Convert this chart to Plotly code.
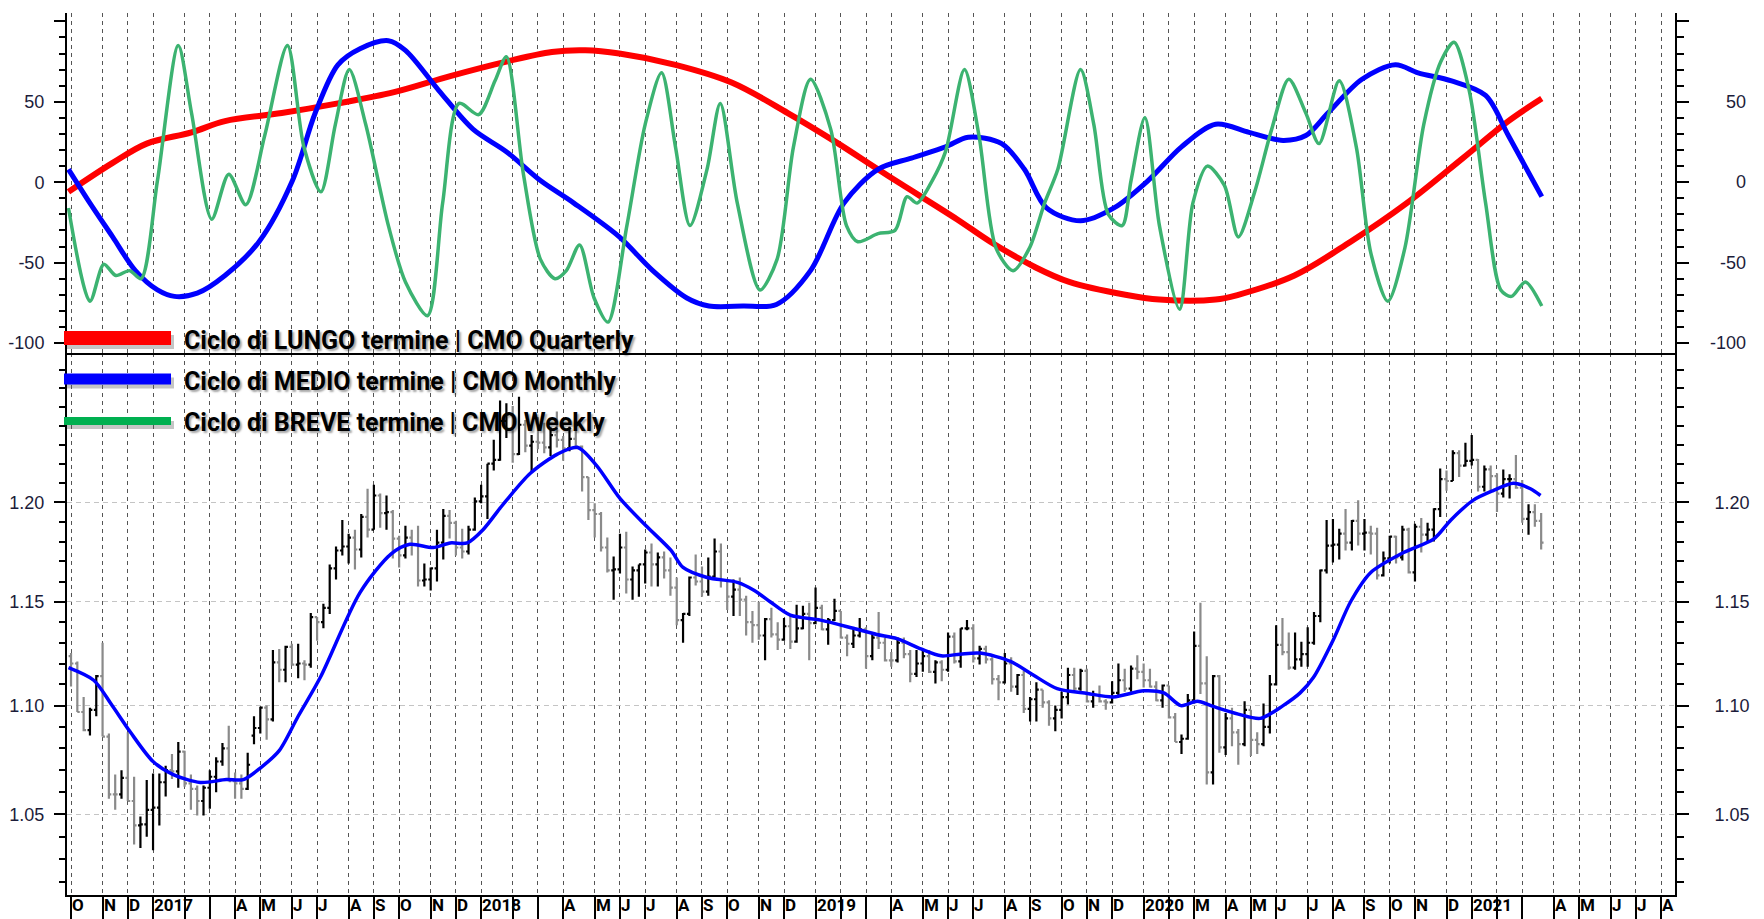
import pandas as pd
import plotly.graph_objects as go
import math

# ---------------- DATA ----------------
FIRST_WEEK = "2016-10-03"   # weekly bars, one per week

OPEN = [1.1235,1.1200,1.0970,1.0885,1.0980,1.1140,1.0855,1.0590,1.0590,1.0665,
        1.0560,1.0450,1.0455,1.0520,1.0530,1.0645,1.0700,1.0695,1.0785,1.0640,
        1.0615,1.0560,1.0620,1.0670,1.0740,1.0800,1.0650,1.0640,1.0615,1.0860,
        1.0895,1.0990,1.0935,1.1205,1.1170,1.1280,1.1195,1.1200,1.1195,1.1425,
        1.1400,1.1470,1.1665,1.1755,1.1775,1.1820,1.1760,1.1925,1.1860,1.2035,
        1.1945,1.1950,1.1815,1.1730,1.1820,1.1785,1.1605,1.1610,1.1665,1.1795,
        1.1930,1.1895,1.1770,1.1750,1.1860,1.2005,1.2030,1.2200,1.2220,1.2425,
        1.2460,1.2250,1.2405,1.2295,1.2315,1.2310,1.2285,1.2350,1.2325,1.2280,
        1.2330,1.2290,1.2130,1.1960,1.1940,1.1770,1.1655,1.1660,1.1770,1.1610,
        1.1655,1.1685,1.1745,1.1685,1.1720,1.1655,1.1570,1.1410,1.1440,1.1620,
        1.1600,1.1550,1.1625,1.1750,1.1605,1.1525,1.1560,1.1510,1.1400,1.1385,
        1.1335,1.1415,1.1340,1.1315,1.1380,1.1305,1.1370,1.1440,1.1395,1.1470,
        1.1365,1.1410,1.1455,1.1325,1.1295,1.1335,1.1365,1.1235,1.1325,1.1300,
        1.1215,1.1215,1.1300,1.1245,1.1150,1.1200,1.1235,1.1160,1.1205,1.1170,
        1.1330,1.1210,1.1370,1.1370,1.1225,1.1270,1.1220,1.1125,1.1110,1.1200,
        1.1090,1.1145,1.0985,1.1030,1.1075,1.1015,1.0940,1.0980,1.1040,1.1145,
        1.1080,1.1165,1.1020,1.1050,1.1020,1.1015,1.1060,1.1120,1.1080,1.1175,
        1.1160,1.1120,1.1090,1.1025,1.1095,1.0945,1.0830,1.0845,1.1025,1.1285,
        1.1105,1.0690,1.1140,1.0805,1.0940,1.0875,1.0820,1.0980,1.0840,1.0820,
        1.0900,1.1100,1.1290,1.1255,1.1180,1.1220,1.1245,1.1300,1.1430,1.1655,
        1.1780,1.1785,1.1840,1.1795,1.1905,1.1840,1.1845,1.1840,1.1630,1.1715,
        1.1825,1.1720,1.1860,1.1645,1.1875,1.1835,1.1860,1.1965,1.2120,1.2110,
        1.2255,1.2190,1.2215,1.2220,1.2080,1.2170,1.2135,1.2045,1.2120,1.2120,
        1.2075,1.1915,1.1950,1.1905]
HIGH = [1.1250,1.1210,1.1040,1.0990,1.1145,1.1300,1.0870,1.0680,1.0700,1.0875,
        1.0670,1.0490,1.0655,1.0685,1.0685,1.0720,1.0775,1.0830,1.0790,1.0680,
        1.0630,1.0630,1.0700,1.0760,1.0825,1.0905,1.0690,1.0680,1.0780,1.0950,
        1.0995,1.1000,1.1265,1.1270,1.1285,1.1295,1.1295,1.1215,1.1445,1.1425,
        1.1490,1.1685,1.1775,1.1910,1.1840,1.1860,1.1940,1.2070,1.2090,1.2045,
        1.2035,1.1960,1.1830,1.1880,1.1860,1.1880,1.1690,1.1670,1.1860,1.1965,
        1.1960,1.1905,1.1865,1.1880,1.2025,1.2090,1.2200,1.2325,1.2535,1.2520,
        1.2505,1.2555,1.2430,1.2350,1.2445,1.2415,1.2390,1.2475,1.2345,1.2395,
        1.2415,1.2295,1.2130,1.1995,1.1950,1.1820,1.1725,1.1840,1.1850,1.1675,
        1.1685,1.1760,1.1790,1.1745,1.1750,1.1720,1.1620,1.1445,1.1625,1.1735,
        1.1675,1.1720,1.1815,1.1790,1.1610,1.1610,1.1620,1.1530,1.1455,1.1500,
        1.1420,1.1470,1.1400,1.1420,1.1440,1.1485,1.1480,1.1495,1.1570,1.1485,
        1.1420,1.1515,1.1455,1.1340,1.1370,1.1420,1.1375,1.1340,1.1450,1.1325,
        1.1255,1.1325,1.1325,1.1265,1.1265,1.1265,1.1265,1.1215,1.1215,1.1350,
        1.1350,1.1370,1.1410,1.1390,1.1285,1.1285,1.1230,1.1145,1.1250,1.1230,
        1.1150,1.1165,1.1040,1.1110,1.1075,1.1025,1.1000,1.1065,1.1180,1.1180,
        1.1175,1.1175,1.1070,1.1095,1.1030,1.1115,1.1200,1.1175,1.1190,1.1240,
        1.1200,1.1175,1.1115,1.1100,1.1095,1.0965,1.0865,1.1055,1.1355,1.1495,
        1.1235,1.1145,1.1145,1.0965,1.0990,1.0890,1.1020,1.0980,1.0875,1.1010,
        1.1145,1.1385,1.1420,1.1350,1.1350,1.1305,1.1375,1.1450,1.1660,1.1910,
        1.1915,1.1865,1.1965,1.1910,1.2010,1.1915,1.1880,1.1870,1.1750,1.1830,
        1.1830,1.1880,1.1870,1.1890,1.1920,1.1895,1.1970,1.2175,1.2165,1.2270,
        1.2270,1.2310,1.2350,1.2225,1.2190,1.2190,1.2150,1.2170,1.2145,1.2245,
        1.2115,1.1990,1.1990,1.1945]
LOW = [1.1090,1.0970,1.0880,1.0860,1.0950,1.0855,1.0570,1.0520,1.0570,1.0560,
       1.0365,1.0350,1.0400,1.0340,1.0450,1.0580,1.0660,1.0620,1.0625,1.0520,
       1.0495,1.0495,1.0525,1.0600,1.0720,1.0650,1.0570,1.0570,1.0610,1.0820,
       1.0870,1.0840,1.0925,1.1110,1.1110,1.1190,1.1130,1.1120,1.1180,1.1310,
       1.1370,1.1440,1.1610,1.1730,1.1690,1.1660,1.1720,1.1820,1.1860,1.1870,
       1.1860,1.1715,1.1670,1.1715,1.1730,1.1575,1.1575,1.1555,1.1600,1.1710,
       1.1815,1.1730,1.1715,1.1735,1.1855,1.1995,1.1915,1.2165,1.2215,1.2335,
       1.2205,1.2245,1.2260,1.2155,1.2275,1.2255,1.2240,1.2285,1.2215,1.2265,
       1.2275,1.2055,1.1910,1.1820,1.1750,1.1645,1.1510,1.1640,1.1540,1.1510,
       1.1525,1.1590,1.1575,1.1575,1.1615,1.1530,1.1385,1.1300,1.1430,1.1580,
       1.1525,1.1530,1.1620,1.1570,1.1460,1.1430,1.1430,1.1335,1.1300,1.1315,
       1.1215,1.1325,1.1265,1.1310,1.1270,1.1300,1.1365,1.1215,1.1390,1.1360,
       1.1290,1.1405,1.1320,1.1235,1.1275,1.1325,1.1175,1.1215,1.1270,1.1210,
       1.1185,1.1205,1.1225,1.1110,1.1135,1.1160,1.1155,1.1105,1.1115,1.1160,
       1.1200,1.1180,1.1360,1.1205,1.1195,1.1200,1.1100,1.1025,1.1105,1.1065,
       1.1050,1.0965,1.0925,1.0925,1.0990,1.0905,1.0880,1.0940,1.1005,1.1070,
       1.1070,1.1015,1.0990,1.1015,1.0980,1.1010,1.1040,1.1065,1.1065,1.1125,
       1.1085,1.1085,1.1020,1.0990,1.0940,1.0830,1.0775,1.0840,1.1010,1.1055,
       1.0635,1.0635,1.0780,1.0770,1.0810,1.0725,1.0810,1.0765,1.0775,1.0810,
       1.0870,1.1095,1.1240,1.1170,1.1170,1.1185,1.1185,1.1290,1.1400,1.1640,
       1.1695,1.1710,1.1755,1.1755,1.1780,1.1755,1.1735,1.1610,1.1625,1.1690,
       1.1690,1.1705,1.1640,1.1600,1.1745,1.1800,1.1800,1.1925,1.2060,1.2110,
       1.2130,1.2185,1.2190,1.2055,1.2055,1.2060,1.1950,1.2025,1.2020,1.2070,
       1.1895,1.1835,1.1875,1.1760]
CLOSE = [1.1200,1.0970,1.0885,1.0980,1.1140,1.0855,1.0590,1.0590,1.0665,1.0560,
         1.0450,1.0455,1.0520,1.0530,1.0645,1.0700,1.0695,1.0785,1.0640,1.0615,
         1.0560,1.0620,1.0670,1.0740,1.0800,1.0650,1.0640,1.0615,1.0725,1.0895,
         1.0990,1.0935,1.1205,1.1170,1.1280,1.1195,1.1200,1.1195,1.1425,1.1400,
         1.1470,1.1665,1.1755,1.1775,1.1820,1.1760,1.1925,1.1860,1.2035,1.1945,
         1.1950,1.1815,1.1730,1.1820,1.1785,1.1605,1.1610,1.1665,1.1795,1.1930,
         1.1895,1.1770,1.1750,1.1860,1.2005,1.2030,1.2200,1.2220,1.2425,1.2460,
         1.2250,1.2405,1.2295,1.2315,1.2310,1.2285,1.2350,1.2325,1.2280,1.2330,
         1.2290,1.2130,1.1960,1.1940,1.1770,1.1655,1.1660,1.1770,1.1610,1.1655,
         1.1685,1.1745,1.1685,1.1720,1.1655,1.1570,1.1410,1.1440,1.1620,1.1600,
         1.1550,1.1625,1.1750,1.1605,1.1525,1.1560,1.1510,1.1400,1.1385,1.1335,
         1.1415,1.1340,1.1315,1.1380,1.1305,1.1370,1.1440,1.1395,1.1470,1.1365,
         1.1410,1.1455,1.1325,1.1295,1.1335,1.1365,1.1235,1.1325,1.1300,1.1215,
         1.1215,1.1300,1.1245,1.1150,1.1200,1.1235,1.1160,1.1205,1.1170,1.1330,
         1.1210,1.1370,1.1370,1.1225,1.1270,1.1220,1.1125,1.1110,1.1200,1.1090,
         1.1145,1.0985,1.1030,1.1075,1.1015,1.0940,1.0980,1.1040,1.1145,1.1080,
         1.1165,1.1020,1.1050,1.1020,1.1015,1.1060,1.1120,1.1080,1.1175,1.1160,
         1.1120,1.1090,1.1025,1.1095,1.0945,1.0830,1.0845,1.1025,1.1285,1.1105,
         1.0690,1.1140,1.0805,1.0940,1.0875,1.0820,1.0980,1.0840,1.0820,1.0900,
         1.1100,1.1290,1.1255,1.1180,1.1220,1.1245,1.1300,1.1430,1.1655,1.1780,
         1.1785,1.1840,1.1795,1.1905,1.1840,1.1845,1.1840,1.1630,1.1715,1.1825,
         1.1720,1.1860,1.1645,1.1875,1.1835,1.1860,1.1965,1.2120,1.2110,1.2255,
         1.2190,1.2215,1.2220,1.2080,1.2170,1.2135,1.2045,1.2120,1.2120,1.2075,
         1.1915,1.1950,1.1905,1.1795]

# moving average on the price panel (week offset, value)
MA_WEEK = [-0.4,3.6,6.3,9.4,13.0,16.2,20.5,24.6,27.3,30.0,33.0,36.0,39.5,45.8,50.7,
           53.7,57.4,60.1,62.8,65.3,68.0,69.0,72.8,77.1,80.3,83.3,87.0,91.3,95.1,97.0,
           100.8,105.6,108.3,110.8,114.0,118.8,124.0,127.7,130.9,134.7,137.9,140.9,
           144.1,148.9,152.5,156.3,161.1,165.2,170.0,173.2,175.9,178.5,181.0,185.0,
           188.5,192.1,194.8,196.9,200.1,202.8,206.0,211.2,216.0,218.7,222.2,225.4,
           228.6,231.3,232.9]
MA_VAL = [1.118,1.112,1.101,1.0876,1.074,1.068,1.0644,1.0657,1.0657,1.071,1.079,1.095,
          1.1133,1.1545,1.1737,1.1786,1.177,1.1793,1.1793,1.186,1.197,1.201,1.215,1.225,
          1.2285,1.219,1.202,1.1875,1.1755,1.167,1.162,1.1596,1.1556,1.150,1.1434,1.141,
          1.137,1.134,1.132,1.127,1.1237,1.1245,1.125,1.121,1.1145,1.108,1.1057,1.1041,
          1.107,1.106,1.100,1.102,1.0996,1.096,1.094,1.100,1.106,1.1133,1.1317,1.150,
          1.1645,1.1745,1.1814,1.191,1.201,1.206,1.2098,1.207,1.2035]

# CMO oscillators (week offset, value)
Q_WEEK = [-0.4,6.6,12.0,19.1,24.4,33.4,42.3,51.2,60.1,69.0,76.2,81.5,86.9,95.8,104.7,
          113.6,120.8,127.9,131.5,140.4,145.7,152.9,158.2,167.1,172.5,181.4,185.0,193.9,
          202.8,211.7,220.6,227.8,233.1]
Q_VAL = [-6,12,24,31,38,43,49,56,66,75,81,82,80,73,62,43,26,8,-1,-23,-37,-53,-62,-70,
         -73,-73,-70,-58,-37,-13,15,38,52]

M_WEEK = [-0.4,3.0,6.6,10.2,13.7,16.4,20.0,24.4,29.8,35.1,38.7,42.3,45.8,50.3,53.0,58.3,
          63.7,69.0,74.4,79.7,86.9,92.2,97.6,101.1,106.5,111.8,117.2,122.5,127.9,133.2,
          138.6,142.2,147.5,151.1,154.6,160.0,165.3,170.7,176.0,181.4,186.7,192.1,195.7,
          199.2,204.6,209.9,213.5,218.8,224.2,227.8,233.1]
M_VAL = [8,-13,-34,-55,-67,-71,-69,-58,-37,1,43,73,83,88,82,57,33,19,1,-13,-34,-55,-72,
         -77,-77,-76,-55,-13,8,15,22,28,24,8,-16,-24,-16,1,22,36,31,26,29,43,64,73,68,63,
         54,29,-9]

W_WEEK = [-0.4,3.0,5.2,7.1,9.3,11.1,13.7,17.0,19.1,22.3,25.0,27.7,30.7,34.3,36.9,39.6,
          41.9,44.1,46.7,50.3,53.0,56.5,58.9,61.5,64.6,67.2,69.0,71.7,74.4,76.7,78.5,80.6,
          82.9,85.1,88.1,91.0,93.6,95.8,98.1,100.8,102.9,105.6,109.2,111.9,114.5,117.2,
          120.4,122.9,124.7,127.9,130.6,132.5,134.1,136.5,138.6,141.6,143.9,146.6,149.3,
          151.9,154.3,156.4,160.0,162.1,164.4,166.6,168.0,170.2,172.5,175.7,177.8,180.1,
          182.8,185.0,187.6,190.3,193.0,195.7,197.8,201.0,203.7,206.0,208.7,211.4,214.4,
          217.1,219.2,221.6,224.2,226.6,228.3,230.5,233.1]
W_VAL = [-16,-74,-51,-58,-55,-60,1,85,43,-23,5,-14,29,85,22,-6,36,70,36,-27,-62,-83,-13,
         49,42,63,78,5,-48,-60,-55,-39,-72,-87,-27,36,68,22,-27,8,49,-13,-67,-48,22,64,33,
         -27,-37,-32,-30,-9,-13,1,19,70,29,-41,-55,-41,-13,8,70,36,-20,-27,1,40,-27,-79,
         -13,10,-2,-34,-6,33,64,43,24,63,22,-44,-74,-41,36,75,87,57,-13,-67,-71,-62,-77]

MONTH_LABELS = ["O", "N", "D",
                "2017", "", "", "A", "M", "J", "J", "A", "S", "O", "N", "D",
                "2018", "", "", "A", "M", "J", "J", "A", "S", "O", "N", "D",
                "2019", "", "", "A", "M", "J", "J", "A", "S", "O", "N", "D",
                "2020", "", "M", "A", "M", "J", "J", "A", "S", "O", "N", "D",
                "2021", "", "", "A", "M", "J", "J", "A"]

PRICE_TICKS = [1.05, 1.10, 1.15, 1.20]
PRICE_MINOR = [1.02, 1.03, 1.04, 1.06, 1.07, 1.08, 1.09, 1.11, 1.12, 1.13, 1.14,
               1.16, 1.17, 1.18, 1.19, 1.21, 1.22, 1.23, 1.24, 1.25, 1.26, 1.27]
CMO_TICKS = [-100, -50, 0, 50, 100]
CMO_TEXT = ["-100", "-50", "0", "50", ""]

LEGEND = [("Ciclo di LUNGO termine | CMO Quarterly", "#ff0000", 14),
          ("Ciclo di MEDIO termine | CMO Monthly", "#0000ff", 11),
          ("Ciclo di BREVE termine | CMO Weekly", "#00b050", 8)]

# ---------------- BUILD ----------------
t0 = pd.Timestamp(FIRST_WEEK)
weeks = [t0 + pd.Timedelta(days=7 * k) for k in range(len(OPEN))]


def wk(offsets):
    return [t0 + pd.Timedelta(days=7 * o) for o in offsets]


month_starts = pd.date_range("2016-10-01", periods=len(MONTH_LABELS), freq="MS")
month_ticks = [d + pd.Timedelta(days=(7 - d.weekday()) % 7) for d in month_starts]

W, H = 1764, 919
ML, MR, MT, MB = 67, 89, 13, 24
PW, PH = W - ML - MR, H - MT - MB
SPLIT = 542 / 882.0

LABEL_FONT = dict(family="Liberation Sans, Arial, sans-serif", size=18, color="#1c1c3a")
BOLDFONT = "Roboto, Liberation Sans, sans-serif"

fig = go.Figure()

fig.add_trace(go.Ohlc(
    x=weeks, open=OPEN, high=HIGH, low=LOW, close=CLOSE,
    xaxis="x", yaxis="y", tickwidth=0.38,
    increasing=dict(line=dict(color="#000000", width=2.2)),
    decreasing=dict(line=dict(color="#8a8a8a", width=2.2)),
    showlegend=False, hoverinfo="skip"))
fig.add_trace(go.Scatter(
    x=wk(MA_WEEK), y=MA_VAL, mode="lines", xaxis="x", yaxis="y",
    line=dict(color="#0000ff", width=3.5, shape="spline", smoothing=0.8),
    showlegend=False, hoverinfo="skip"))
# invisible helper so the right-hand price axis is drawn
fig.add_trace(go.Scatter(
    x=weeks, y=CLOSE, mode="lines", xaxis="x", yaxis="y3",
    line=dict(width=0), opacity=0, showlegend=False, hoverinfo="skip"))

fig.add_trace(go.Scatter(
    x=wk(Q_WEEK), y=Q_VAL, mode="lines", xaxis="x2", yaxis="y2",
    line=dict(color="#ff0000", width=6, shape="spline", smoothing=1.0),
    showlegend=False, hoverinfo="skip"))
fig.add_trace(go.Scatter(
    x=wk(M_WEEK), y=M_VAL, mode="lines", xaxis="x2", yaxis="y2",
    line=dict(color="#0000ff", width=5, shape="spline", smoothing=0.9),
    showlegend=False, hoverinfo="skip"))
fig.add_trace(go.Scatter(
    x=wk(W_WEEK), y=W_VAL, mode="lines", xaxis="x2", yaxis="y2",
    line=dict(color="#3cb371", width=3.5, shape="spline", smoothing=0.8),
    showlegend=False, hoverinfo="skip"))
fig.add_trace(go.Scatter(
    x=wk(W_WEEK), y=W_VAL, mode="lines", xaxis="x2", yaxis="y4",
    line=dict(width=0), opacity=0, showlegend=False, hoverinfo="skip"))

xrange_ = ["2016-09-28 13:00", "2021-08-17 12:00"]
grid_v = dict(showgrid=True, gridcolor="#555555", griddash="4px,4px", gridwidth=1.4)

fig.update_layout(
    width=W, height=H, margin=dict(l=ML, r=MR, t=MT, b=MB, autoexpand=False),
    paper_bgcolor="white", plot_bgcolor="white", showlegend=False,
    hovermode=False,
    xaxis=dict(domain=[0, 1], anchor="y", type="date", range=xrange_, automargin=False,
               tickmode="array", tickvals=month_ticks, showticklabels=False,
               ticks="outside", ticklen=24, tickwidth=1.5, tickcolor="#000",
               showline=True, linecolor="#000", linewidth=2,
               rangeslider=dict(visible=False), zeroline=False, **grid_v),
    xaxis2=dict(domain=[0, 1], anchor="y2", type="date", range=xrange_, matches="x",
                automargin=False,
                tickmode="array", tickvals=month_ticks, showticklabels=False,
                ticks="", showline=True, linecolor="#000", linewidth=2,
                zeroline=False, **grid_v),
    yaxis=dict(domain=[0, SPLIT], anchor="x", type="log", automargin=False,
               range=[math.log10(1.01435), math.log10(1.27918)],
               tickmode="array", tickvals=PRICE_TICKS,
               ticktext=[f"{v:.2f}" for v in PRICE_TICKS],
               ticks="outside", ticklen=11, tickwidth=1.5, tickcolor="#000",
               tickfont=LABEL_FONT, ticklabelstandoff=6,
               showline=True, linecolor="#000", linewidth=2,
               showgrid=True, gridcolor="#c4c4c4", griddash="5px,4px", gridwidth=1.3,
               zeroline=False,
               minor=dict(tickmode="array", tickvals=PRICE_MINOR, ticks="outside",
                          ticklen=6, tickwidth=1.5, tickcolor="#000", showgrid=False)),
    yaxis3=dict(domain=[0, SPLIT], anchor="x", overlaying="y", side="right", type="log",
                automargin=False,
                range=[math.log10(1.01435), math.log10(1.27918)],
                tickmode="array", tickvals=PRICE_TICKS,
                ticktext=[f"{v:.2f}" for v in PRICE_TICKS],
                ticks="outside", ticklen=12, tickwidth=1.5, tickcolor="#000",
                tickfont=LABEL_FONT, ticklabelstandoff=22,
                showline=True, linecolor="#000", linewidth=2,
                showgrid=False, zeroline=False,
                minor=dict(tickmode="array", tickvals=PRICE_MINOR, ticks="outside",
                           ticklen=7, tickwidth=1.5, tickcolor="#000", showgrid=False)),
    yaxis2=dict(domain=[SPLIT, 1], anchor="x2", range=[-106.2, 105.2], automargin=False,
                tickmode="array", tickvals=CMO_TICKS, ticktext=CMO_TEXT,
                ticks="outside", ticklen=11, tickwidth=1.5, tickcolor="#000",
                tickfont=LABEL_FONT, ticklabelstandoff=6,
                showline=True, linecolor="#000", linewidth=2,
                showgrid=False, zeroline=False,
                minor=dict(tick0=0, dtick=10, ticks="outside", ticklen=6,
                           tickwidth=1.5, tickcolor="#000", showgrid=False)),
    yaxis4=dict(domain=[SPLIT, 1], anchor="x2", overlaying="y2", side="right",
                automargin=False,
                range=[-106.2, 105.2], tickmode="array", tickvals=CMO_TICKS,
                showticklabels=False,
                ticks="outside", ticklen=12, tickwidth=1.5, tickcolor="#000",
                showline=True, linecolor="#000", linewidth=2,
                showgrid=False, zeroline=False,
                minor=dict(tick0=0, dtick=10, ticks="outside", ticklen=7,
                           tickwidth=1.5, tickcolor="#000", showgrid=False)),
)

annotations = []
# right-hand labels of the oscillator panel (right aligned)
for v, t in zip(CMO_TICKS, CMO_TEXT):
    if t:
        annotations.append(dict(xref="paper", yref="y2", x=(1748 - ML) / PW, y=v,
                                xanchor="right", yanchor="middle", text=t,
                                showarrow=False, font=LABEL_FONT))
# month labels under the axis
for d, t in zip(month_ticks, MONTH_LABELS):
    if t:
        annotations.append(dict(xref="x", yref="paper", x=d, y=0, xanchor="left",
                                yanchor="top", xshift=0, yshift=1, borderpad=0,
                                text=f"<b>{t}</b>", showarrow=False,
                                font=dict(family=BOLDFONT, size=17, color="#000")))

# custom legend
shapes = []
leg_y = [338, 379, 421]
for (label, color, lw), yp in zip(LEGEND, leg_y):
    py = (H - MB - yp) / PH
    off_x, off_y = 3 / PW, 4 / PH
    shapes.append(dict(type="line", xref="paper", yref="paper", layer="above",
                       x0=(64 - ML) / PW + off_x, x1=(171 - ML) / PW + off_x,
                       y0=py - off_y, y1=py - off_y,
                       line=dict(color="rgba(90,90,90,0.35)", width=lw)))
    shapes.append(dict(type="line", xref="paper", yref="paper", layer="above",
                       x0=(64 - ML) / PW, x1=(171 - ML) / PW, y0=py, y1=py,
                       line=dict(color=color, width=lw)))
    annotations.append(dict(xref="paper", yref="paper", x=(182 - ML) / PW, y=py,
                            xanchor="left", yanchor="middle", yshift=-2, showarrow=False,
                            text=f"<b>{label}</b>",
                            font=dict(family=BOLDFONT, size=25, color="#000",
                                      shadow="2px 2px 2px rgba(0,0,0,0.35)")))

fig.update_layout(annotations=annotations, shapes=shapes)

fig.write_html("out.html", config={"displayModeBar": False},
               post_script="document.body.style.margin='0';document.body.style.overflow='hidden';")
